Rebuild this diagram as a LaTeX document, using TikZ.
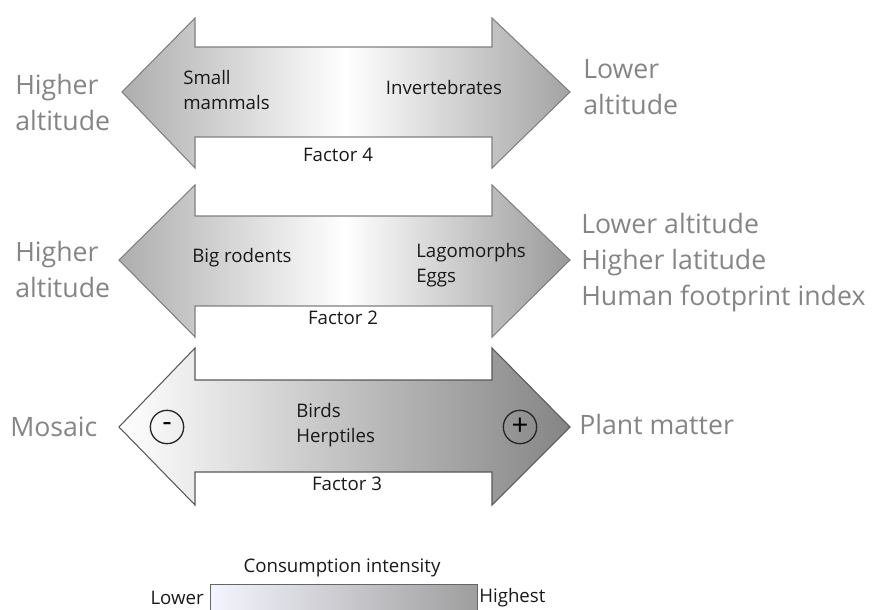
\documentclass[tikz,border=0pt]{standalone}
\usepackage{fontspec}
\setmainfont{Open Sans}
\usepackage{tikz}

\begin{document}
\begin{tikzpicture}[x=0.75pt,y=-0.75pt,
    bandarrow/.style={draw=black!50,line width=0.8pt},
    sidelabel/.style={text=black!48,font=\fontsize{20}{27}\selectfont,inner sep=0pt},
    innerlabel/.style={text=black!90,font=\fontsize{14}{19}\selectfont,inner sep=0pt},
    signcircle/.style={circle,draw=black!85,line width=1pt,minimum size=25pt,inner sep=0pt,font=\fontsize{22}{22}\selectfont}]
  \useasboundingbox (0,0) rectangle (874,610);
  \draw[bandarrow, left color=black!32, right color=black!36, middle color=white]
    (122,92) -- (195,18) -- (195,47) -- (492,47) -- (492,18) -- (570,92)
    -- (492,168) -- (492,137) -- (195,137) -- (195,168) -- cycle;
  \draw[bandarrow, left color=black!32, right color=black!40, middle color=white]
    (119,260) -- (195,185) -- (195,216) -- (492,216) -- (492,185) -- (570,260)
    -- (492,337) -- (492,306) -- (195,306) -- (195,337) -- cycle;
  \draw[bandarrow, draw=black!65, left color=white, right color=black!48]
    (119,427) -- (195,348) -- (195,380) -- (492,380) -- (492,348) -- (570,427)
    -- (492,505) -- (492,472) -- (195,472) -- (195,505) -- cycle;

  \node[innerlabel, anchor=west, align=left] (small) at (183,90) {Small\\mammals};
  \node[innerlabel] (invert) at (444,87) {Invertebrates};
  \node[innerlabel] (f4) at (338,155) {Factor 4};
  \node[innerlabel, anchor=west] (rodents) at (192,258) {Big rodents};
  \node[innerlabel, anchor=west, align=left] (lago) at (416,265) {Lagomorphs\\Eggs};
  \node[innerlabel] (f2) at (343,318) {Factor 2};
  \node[innerlabel, anchor=west, align=left] (birds) at (296,425) {Birds\\Herptiles};
  \node[innerlabel] (f3) at (347,484) {Factor 3};
  \node[signcircle] (minus) at (167,427) {-};
  \node[signcircle] (plus) at (520,427) {+};

  \node[sidelabel, anchor=west, align=left] (hi1) at (15,102) {Higher\\altitude};
  \node[sidelabel, anchor=west, align=left] (hi2) at (15,269) {Higher\\altitude};
  \node[sidelabel, anchor=west] (mosaic) at (10,427) {Mosaic};
  \node[sidelabel, anchor=west, align=left] (lo1) at (583,87) {Lower\\altitude};
  \node[sidelabel, anchor=west, align=left] (lo2) at (581,263)
    {Lower altitude\\Higher latitude\\Human footprint index};
  \node[sidelabel, anchor=west] (plant) at (579,424) {Plant matter};

  \shade[left color=blue!4!white, right color=black!38] (210,584) rectangle (477,614);
  \draw[black!60, line width=0.6pt] (210,584) rectangle (477,614);
  \node[innerlabel] (intensity) at (342,568) {Consumption intensity};
  \node[innerlabel, anchor=east] (lower) at (204,598) {Lower};
  \node[innerlabel, anchor=west] (highest) at (479,598) {Highest};
\end{tikzpicture}
\end{document}
